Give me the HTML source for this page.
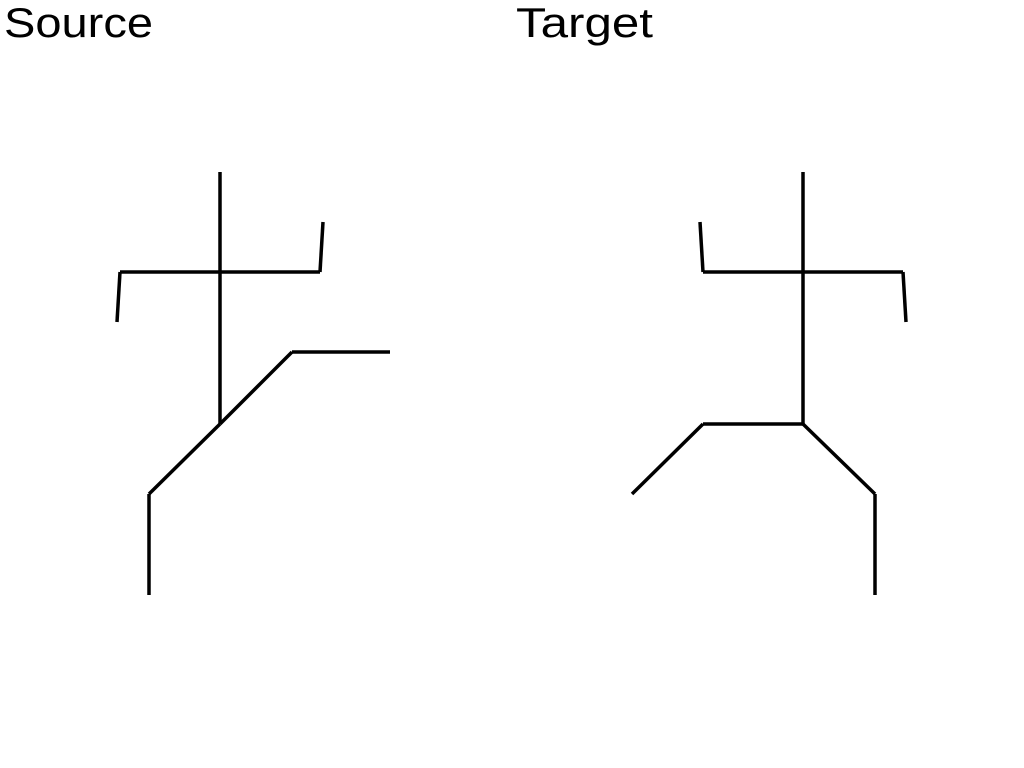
<!DOCTYPE html>
<html><head><meta charset="utf-8"><style>
html,body{margin:0;padding:0;background:#fff;width:1024px;height:768px;overflow:hidden}
svg{display:block}
text{font-family:"Liberation Sans",sans-serif;font-size:42px;fill:#000}
</style></head><body>
<svg id="chart" width="1024" height="768">
<text x="4" y="37" textLength="149" lengthAdjust="spacingAndGlyphs">Source</text>
<text x="516" y="37" textLength="137" lengthAdjust="spacingAndGlyphs">Target</text>
<g id="marks"></g>
</svg>
<script>
// Joint coordinates (pixel space of each figure's own frame)
const sourceJoints = [[220,172],[220,272],[120,272],[117,322],[320,272],[323,222],[220,424],[292,352],[390,352],[149,494],[149,595]];
const sourceBones = [[0,1],[1,6],[1,2],[2,3],[1,4],[4,5],[6,7],[7,8],[6,9],[9,10]];
const targetJoints = [[803,172],[803,272],[703,272],[700,222],[903,272],[906,322],[803,424],[703,424],[632,494],[875,494],[875,595]];
const targetBones = [[0,1],[1,6],[1,2],[2,3],[1,4],[4,5],[6,7],[7,8],[6,9],[9,10]];
const NS="http://www.w3.org/2000/svg";
const g=document.getElementById('marks');
function draw(joints,bones,name){
  bones.forEach((b,i)=>{
    const l=document.createElementNS(NS,'line');
    l.setAttribute('x1',joints[b[0]][0]);l.setAttribute('y1',joints[b[0]][1]);
    l.setAttribute('x2',joints[b[1]][0]);l.setAttribute('y2',joints[b[1]][1]);
    l.setAttribute('stroke','#000');l.setAttribute('stroke-width','3.5');
    
    
    g.appendChild(l);
  });
}
draw(sourceJoints,sourceBones,'source');
draw(targetJoints,targetBones,'target');
</script>
</body></html>
